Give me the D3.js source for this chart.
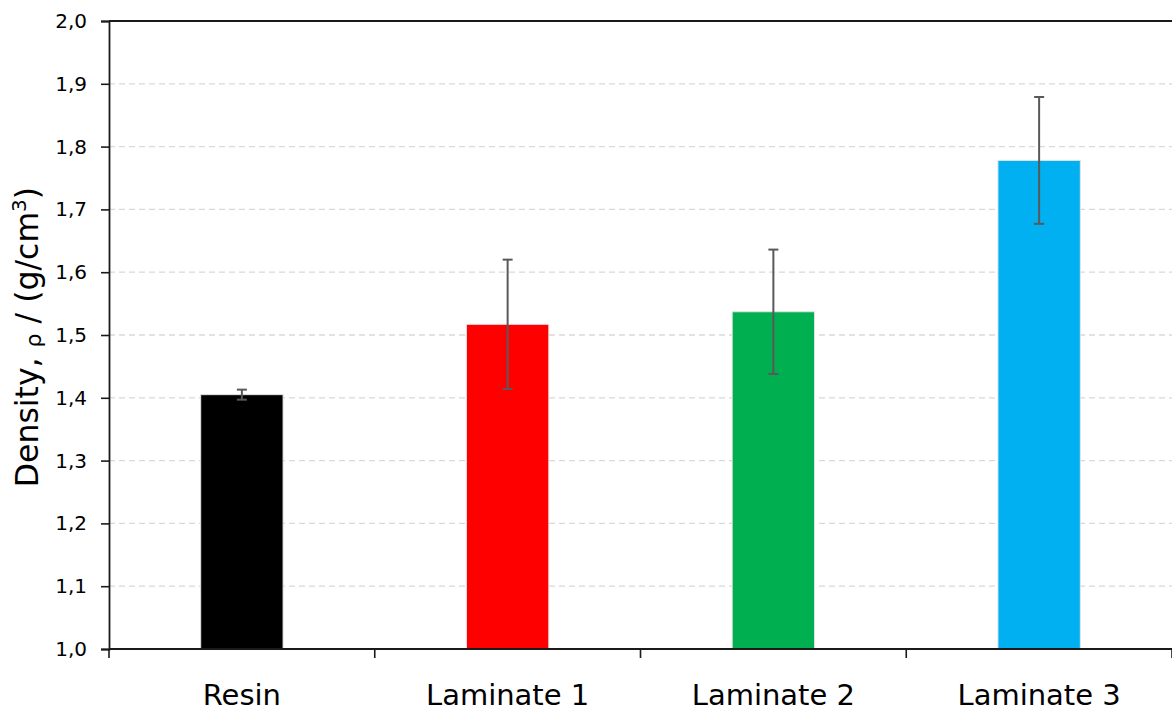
<!DOCTYPE html>
<html>
<head>
<meta charset="utf-8">
<script src="https://cdn.jsdelivr.net/npm/d3@7"></script>
<style>
  html, body { margin: 0; padding: 0; background: #fff; }
  svg { display: block; font-family: "DejaVu Sans", Verdana, sans-serif; }
</style>
</head>
<body>
<svg id="chart" width="1172" height="711"></svg>
<script>
// Mean density per material and its standard deviation (g/cm³)
const categories = ["Resin", "Laminate 1", "Laminate 2", "Laminate 3"];
const densities = [1.405, 1.517, 1.537, 1.778];
const deviations = [0.008, 0.103, 0.099, 0.101];
const barColors = ["#000000", "#ff0000", "#00b050", "#00b0f0"];
const yTicks = [1.0, 1.1, 1.2, 1.3, 1.4, 1.5, 1.6, 1.7, 1.8, 1.9, 2.0];

const svg = d3.select("#chart");
const margin = { top: 21, right: 0, bottom: 62, left: 109 };
const width = 1172 - margin.left - margin.right;
const height = 711 - margin.top - margin.bottom;

const g = svg.append("g").attr("transform", `translate(${margin.left},${margin.top})`);

const x = d3.scaleBand().domain(categories).range([0, width]).paddingInner(0.69).paddingOuter(0.345);
const y = d3.scaleLinear().domain([1.0, 2.0]).range([height, 0]);
const fmt = v => d3.format(".1f")(v).replace(".", ",");

// dashed horizontal gridlines
g.append("g")
  .selectAll("line")
  .data(yTicks.filter(v => v > 1.0 && v < 2.0))
  .join("line")
  .attr("x1", 0).attr("x2", width)
  .attr("y1", d => y(d)).attr("y2", d => y(d))
  .attr("stroke", "#d9d9d9")
  .attr("stroke-width", 1.3)
  .attr("stroke-dasharray", "6,4");

// bars
g.append("g")
  .selectAll("rect")
  .data(categories)
  .join("rect")
  .attr("x", d => x(d))
  .attr("width", x.bandwidth())
  .attr("y", (d, i) => y(densities[i]))
  .attr("height", (d, i) => y(1.0) - y(densities[i]))
  .attr("fill", (d, i) => barColors[i])
  .attr("stroke", "#e3e3e3")
  .attr("stroke-width", 1);

// error bars
const err = g.append("g").attr("stroke", "#595959").attr("stroke-width", 2);
categories.forEach((c, i) => {
  const cx = x(c) + x.bandwidth() / 2;
  const hi = y(densities[i] + deviations[i]);
  const lo = y(densities[i] - deviations[i]);
  err.append("line").attr("x1", cx).attr("x2", cx).attr("y1", hi).attr("y2", lo);
  err.append("line").attr("x1", cx - 5).attr("x2", cx + 5).attr("y1", hi).attr("y2", hi);
  err.append("line").attr("x1", cx - 5).attr("x2", cx + 5).attr("y1", lo).attr("y2", lo);
});

// y axis
const yAxis = g.append("g")
  .call(d3.axisLeft(y).tickValues(yTicks).tickFormat(fmt).tickSize(8).tickPadding(14));
yAxis.select(".domain").attr("stroke", "#1a1a1a").attr("stroke-width", 1.8);
yAxis.selectAll(".tick line").attr("stroke", "#1a1a1a").attr("stroke-width", 1.6);
yAxis.selectAll(".tick text").attr("font-size", 20).attr("fill", "#000")
  .attr("font-family", "DejaVu Sans, Verdana, sans-serif");

// x axis: tick marks on category boundaries, labels centred under bars
const xEdge = d3.scaleLinear().domain([0, categories.length]).range([0, width]);
const xAxis = g.append("g").attr("transform", `translate(0,${height})`);
xAxis.append("line").attr("x1", 0).attr("x2", width).attr("y1", 0).attr("y2", 0)
  .attr("stroke", "#1a1a1a").attr("stroke-width", 1.8);
xAxis.selectAll("line.edge")
  .data(d3.range(categories.length + 1))
  .join("line")
  .attr("class", "edge")
  .attr("x1", d => xEdge(d)).attr("x2", d => xEdge(d))
  .attr("y1", 0).attr("y2", 9)
  .attr("stroke", "#1a1a1a").attr("stroke-width", 1.6);
xAxis.selectAll("text")
  .data(categories)
  .join("text")
  .attr("x", d => x(d) + x.bandwidth() / 2)
  .attr("y", 56)
  .attr("text-anchor", "middle")
  .attr("font-size", 29)
  .attr("fill", "#000")
  .text(d => d);

// top border
g.append("line").attr("x1", 0).attr("x2", width).attr("y1", 0).attr("y2", 0)
  .attr("stroke", "#1a1a1a").attr("stroke-width", 1.8);

// y axis title
const title = svg.append("text")
  .attr("transform", `translate(38,${margin.top + height / 2 + 2}) rotate(-90)`)
  .attr("text-anchor", "middle")
  .attr("font-size", 31.5)
  .attr("fill", "#000");
title.append("tspan").text("Density, ");
title.append("tspan").attr("font-size", 22).attr("dy", 3).text("ρ");
title.append("tspan").attr("dy", -3).text(" / (g/cm");
title.append("tspan").attr("font-size", 20).attr("dy", -12).text("3");
title.append("tspan").attr("dy", 12).text(")");
</script>
</body>
</html>
